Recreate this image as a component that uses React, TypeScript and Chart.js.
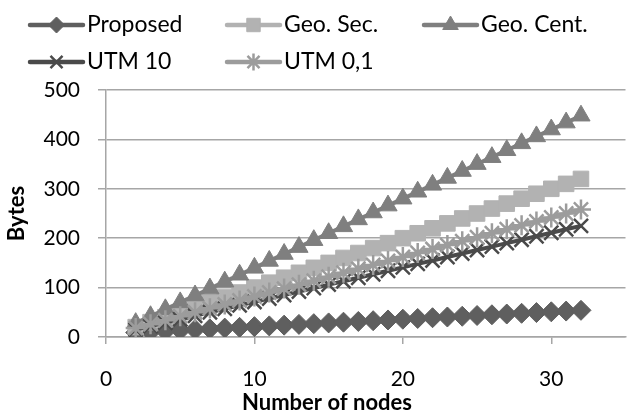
import React, { useEffect, useRef } from "react";
import { Chart, registerables } from "chart.js";
import { drawPoint } from "chart.js/helpers";

Chart.register(...registerables);

const nodes = [2, 3, 4, 5, 6, 7, 8, 9, 10, 11, 12, 13, 14, 15, 16, 17, 18, 19, 20, 21, 22, 23, 24, 25, 26, 27, 28, 29, 30, 31, 32];
const proposed = [9, 10.5, 12, 13.5, 15, 16.5, 18, 19.5, 21, 22.5, 24, 25.5, 27, 28.5, 30, 31.5, 33, 34.5, 36, 37.5, 39, 40.5, 42, 43.5, 45, 46.5, 48, 49.5, 51, 52.5, 54];
const geoSec = [20, 30, 40, 50, 60, 70, 80, 90, 100, 110, 120, 130, 140, 150, 160, 170, 180, 190, 200, 210, 220, 230, 240, 250, 260, 270, 280, 290, 300, 310, 320];
const geoCent = [28, 42, 56, 70, 84, 98, 112, 126, 140, 154, 168, 182, 196, 210, 224, 238, 252, 266, 280, 294, 308, 322, 336, 350, 364, 378, 392, 406, 420, 434, 448];
const utm10 = [15, 22, 29, 36, 43, 50, 57, 64, 71, 78, 85, 92, 99, 106, 113, 120, 127, 134, 141, 148, 155, 162, 169, 176, 183, 190, 197, 204, 211, 218, 225];
const utm01 = [18, 26, 34, 42, 50, 58, 66, 74, 82, 90, 98, 106, 114, 122, 130, 138, 146, 154, 162, 170, 178, 186, 194, 202, 210, 218, 226, 234, 242, 250, 258];

const seriesNames = ["Proposed", "Geo. Sec.", "Geo. Cent.", "UTM 10", "UTM 0,1"];
const seriesValues = [proposed, geoSec, geoCent, utm10, utm01];
const seriesColors = ["#5f5f5f", "#b2b2b2", "#7f7f7f", "#4a4a4a", "#9c9c9c"];
const seriesMarkers = ["rectRot", "rect", "triangle", "crossRot", "star"];
const seriesRadius = [10, 11, 10.5, 10, 10];
const legendRadius = [8, 9.5, 9, 8.5, 8.5];

const xTicks = [0, 10, 20, 30];
const yTicks = [0, 100, 200, 300, 400, 500];
const xTitle = "Number of nodes";
const yTitle = "Bytes";

const FONT = "Lato";
const GRID = "#a6a6a6";

const customPlugin = {
  id: "customDecor",
  afterDraw(chart: any) {
    const ctx = chart.ctx;
    ctx.save();
    chart.data.datasets.forEach((ds: any, i: number) => {
      const col = i % 3;
      const row = Math.floor(i / 3);
      const x0 = 30 + col * 197;
      const y = 25 + row * 37;
      ctx.strokeStyle = ds.borderColor;
      ctx.lineWidth = 4.5;
      ctx.lineCap = "round";
      ctx.beginPath();
      ctx.moveTo(x0, y);
      ctx.lineTo(x0 + 53, y);
      ctx.stroke();
      ctx.lineCap = "butt";
      ctx.fillStyle = ds.pointBackgroundColor;
      ctx.strokeStyle = ds.pointBorderColor;
      ctx.lineWidth = ds.pointBorderWidth;
      drawPoint(ctx, { pointStyle: ds.pointStyle, radius: legendRadius[i], borderWidth: ds.pointBorderWidth, rotation: 0 }, x0 + 26.5, y);
      ctx.fillStyle = "#000";
      ctx.font = `23px ${FONT}`;
      ctx.textAlign = "left";
      ctx.textBaseline = "middle";
      ctx.fillText(ds.label, x0 + 57, y);
    });
    ctx.fillStyle = "#000";
    ctx.font = `bold 22px ${FONT}`;
    ctx.textAlign = "center";
    ctx.textBaseline = "middle";
    ctx.fillText(xTitle, 327, 403);
    const area = chart.chartArea;
    ctx.translate(17, (area.top + area.bottom) / 2);
    ctx.rotate(-Math.PI / 2);
    ctx.fillText(yTitle, 0, 0);
    ctx.restore();
  },
};

export default function App() {
  const ref = useRef<HTMLCanvasElement>(null);
  useEffect(() => {
    if (!ref.current) return;
    const datasets = seriesNames.map((name, i) => ({
      label: name,
      data: nodes.map((n, j) => ({ x: n, y: seriesValues[i][j] })),
      borderColor: seriesColors[i],
      backgroundColor: seriesColors[i],
      pointBackgroundColor: seriesColors[i],
      pointBorderColor: seriesColors[i],
      pointBorderWidth: seriesMarkers[i] === "crossRot" || seriesMarkers[i] === "star" ? 2.5 : 1,
      pointStyle: seriesMarkers[i],
      pointRadius: seriesRadius[i],
      borderWidth: 4,
      order: seriesNames.length - i,
    }));
    const chart = new Chart(ref.current, {
      type: "line",
      data: { datasets },
      options: {
        animation: false,
        responsive: false,
        devicePixelRatio: 1,
        layout: { padding: { top: 90, left: 0, right: 0, bottom: 0 } },
        font: { family: FONT },
        plugins: { legend: { display: false }, tooltip: { enabled: false } },
        scales: {
          x: {
            type: "linear",
            min: 0,
            max: 35,
            afterBuildTicks: (scale: any) => {
              scale.ticks = xTicks.map((v) => ({ value: v }));
            },
            afterFit: (scale: any) => {
              scale.height = 80;
            },
            grid: { drawOnChartArea: false, drawTicks: true, tickLength: 7, color: GRID, lineWidth: 1.5 },
            border: { color: GRID, width: 1.5 },
            ticks: { padding: 23, color: "#000", font: { family: FONT, size: 21 }, maxRotation: 0 },
          },
          y: {
            type: "linear",
            min: 0,
            max: 500,
            afterBuildTicks: (scale: any) => {
              scale.ticks = yTicks.map((v) => ({ value: v }));
            },
            afterFit: (scale: any) => {
              scale.width = 106;
            },
            grid: { color: GRID, lineWidth: 1.5, tickLength: 8, drawTicks: true },
            border: { color: GRID, width: 1.5 },
            ticks: { padding: 18, color: "#000", font: { family: FONT, size: 21 } },
          },
        },
      } as any,
      plugins: [customPlugin],
    });
    return () => chart.destroy();
  }, []);
  return (
    <div style={{ position: "fixed", left: 0, top: 0, width: 634, height: 417, overflow: "hidden", background: "#fff" }}>
      <canvas ref={ref} width={638} height={417} style={{ width: 638, height: 417, display: "block" }} />
    </div>
  );
}
